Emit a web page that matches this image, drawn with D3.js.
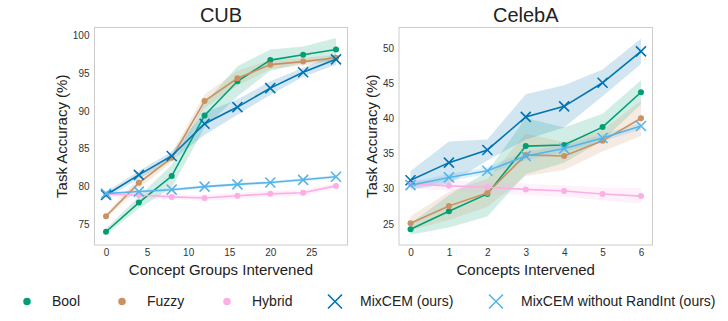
<!DOCTYPE html>
<html>
<head>
<meta charset="utf-8">
<script src="https://cdn.jsdelivr.net/npm/d3@7"></script>
<style>
body { margin: 0; background: #fff; }
text { font-family: "Liberation Sans", Arial, sans-serif; }
.tick text { fill: #333; font-size: 10px; }
</style>
</head>
<body>
<svg width="728" height="321"></svg>
<script>

// series names and colours
var names = ["Bool", "Fuzzy", "Hybrid", "MixCEM (ours)", "MixCEM without RandInt (ours)"];
var colors = ["#029e73", "#ca9161", "#fbafe4", "#0173b2", "#56b4e9"];
var markers = ["dot", "dot", "dot", "x", "x"];

// CUB
var cubX = [0, 4, 8, 12, 16, 20, 24, 28];
var cubBool   = [74.05, 77.9, 81.4, 89.4, 93.9, 96.7, 97.4, 98.1];
var cubFuzzy  = [76.1, 80.5, 83.8, 91.3, 94.3, 96.1, 96.5, 97.0];
var cubHybrid = [79.0, 78.9, 78.65, 78.5, 78.8, 79.05, 79.2, 80.1];
var cubMix    = [78.9, 81.55, 84.05, 88.3, 90.5, 93.0, 95.1, 96.8];
var cubMixNR  = [79.1, 79.35, 79.6, 80.0, 80.3, 80.55, 80.9, 81.3];
var cubBoolSd   = [0.4, 0.8, 1.5, 1.6, 2.0, 1.4, 1.1, 1.5];
var cubFuzzySd  = [0.3, 0.7, 0.6, 0.9, 1.0, 0.6, 0.5, 0.4];
var cubHybridSd = [0.3, 0.4, 0.3, 0.4, 0.4, 0.4, 0.4, 0.3];
var cubMixSd    = [0.4, 0.5, 0.6, 1.5, 1.0, 0.9, 0.6, 0.7];
var cubMixNRSd  = [0.2, 0.2, 0.2, 0.2, 0.2, 0.2, 0.2, 0.2];

// CelebA
var celX = [0, 1, 2, 3, 4, 5, 6];
var celBool   = [24.24, 26.8, 29.25, 36.05, 36.2, 38.75, 43.7];
var celFuzzy  = [25.1, 27.55, 29.4, 34.8, 34.65, 36.8, 40.0];
var celHybrid = [30.67, 30.4, 30.2, 29.9, 29.67, 29.25, 28.95];
var celMix    = [31.2, 33.7, 35.5, 40.2, 41.7, 45.05, 49.5];
var celMixNR  = [30.5, 31.6, 32.55, 34.65, 35.7, 37.2, 38.9];
var celBoolSd   = [0.8, 2.3, 3.2, 4.0, 2.5, 1.9, 1.7];
var celFuzzySd  = [1.0, 2.0, 2.0, 3.0, 2.0, 1.5, 2.5];
var celHybridSd = [0.6, 0.7, 0.8, 0.8, 0.8, 0.9, 1.1];
var celMixSd    = [1.3, 3.0, 1.5, 3.2, 3.0, 1.9, 1.8];
var celMixNRSd  = [0.4, 0.5, 0.5, 0.6, 0.5, 0.5, 0.5];

var cubXTicks = [0, 5, 10, 15, 20, 25];
var cubYTicks = [75, 80, 85, 90, 95, 100];
var celXTicks = [0, 1, 2, 3, 4, 5, 6];
var celYTicks = [25, 30, 35, 40, 45, 50];

var svg = d3.select("svg");

function panel(opt) {
  var x = d3.scaleLinear().domain(opt.xdom).range([opt.left, opt.right]);
  var y = d3.scaleLinear().domain(opt.ydom).range([opt.bottom, opt.top]);
  var g = svg.append("g");

  g.append("rect")
    .attr("x", opt.left).attr("y", opt.top)
    .attr("width", opt.right - opt.left).attr("height", opt.bottom - opt.top)
    .attr("fill", "#fff").attr("stroke", "#cccccc").attr("stroke-width", 1);

  var plot = g.append("g");

  // bands first
  opt.series.forEach(function(s, i) {
    var area = d3.area()
      .x(function(d, j) { return x(opt.xs[j]); })
      .y0(function(d, j) { return y(d - opt.sds[i][j]); })
      .y1(function(d, j) { return y(d + opt.sds[i][j]); });
    plot.append("path").datum(s)
      .attr("d", area)
      .attr("fill", colors[i]).attr("fill-opacity", 0.18);
  });

  opt.series.forEach(function(s, i) {
    var line = d3.line()
      .x(function(d, j) { return x(opt.xs[j]); })
      .y(function(d) { return y(d); });
    plot.append("path").datum(s)
      .attr("d", line)
      .attr("fill", "none").attr("stroke", colors[i]).attr("stroke-width", 1.6);
    s.forEach(function(v, j) {
      drawMarker(plot, markers[i], x(opt.xs[j]), y(v), colors[i], 1);
    });
  });

  g.append("g")
    .attr("transform", "translate(0," + opt.bottom + ")")
    .call(d3.axisBottom(x).tickValues(opt.xticks).tickSize(0).tickPadding(4).tickFormat(d3.format("d")))
    .call(function(a) { a.select(".domain").remove(); });

  g.append("g")
    .attr("transform", "translate(" + opt.left + ",0)")
    .call(d3.axisLeft(y).tickValues(opt.yticks).tickSize(0).tickPadding(5).tickFormat(d3.format("d")))
    .call(function(a) { a.select(".domain").remove(); });

  var cx = (opt.left + opt.right) / 2;
  g.append("text").attr("x", cx).attr("y", 22)
    .attr("text-anchor", "middle").attr("font-size", 20).attr("fill", "#222")
    .text(opt.title);
  g.append("text").attr("x", cx).attr("y", 275)
    .attr("text-anchor", "middle").attr("font-size", 15).attr("fill", "#222")
    .text(opt.xlabel);
  g.append("text")
    .attr("transform", "translate(" + opt.ylabx + "," + ((opt.top + opt.bottom) / 2) + ") rotate(-90)")
    .attr("text-anchor", "middle").attr("font-size", 15).attr("fill", "#222")
    .text("Task Accuracy (%)");
}

function drawMarker(sel, type, cx, cy, color, scale) {
  if (type == "dot") {
    sel.append("circle").attr("cx", cx).attr("cy", cy).attr("r", 3 * scale)
      .attr("fill", color);
  } else {
    var r = 5 * scale;
    sel.append("path")
      .attr("d", "M" + (cx - r) + "," + (cy - r) + "L" + (cx + r) + "," + (cy + r) +
                 "M" + (cx - r) + "," + (cy + r) + "L" + (cx + r) + "," + (cy - r))
      .attr("stroke", color).attr("stroke-width", 1.6).attr("fill", "none");
  }
}

panel({
  title: "CUB", xlabel: "Concept Groups Intervened",
  left: 94.5, right: 347.5, top: 27.5, bottom: 245, ylabx: 67,
  xdom: [-1.4, 29.4], ydom: [72.3, 101.0],
  xticks: cubXTicks, yticks: cubYTicks, xs: cubX,
  series: [cubBool, cubFuzzy, cubHybrid, cubMix, cubMixNR],
  sds: [cubBoolSd, cubFuzzySd, cubHybridSd, cubMixSd, cubMixNRSd]
});

panel({
  title: "CelebA", xlabel: "Concepts Intervened",
  left: 399, right: 652.5, top: 27.5, bottom: 245, ylabx: 377,
  xdom: [-0.3, 6.3], ydom: [22.0, 52.9],
  xticks: celXTicks, yticks: celYTicks, xs: celX,
  series: [celBool, celFuzzy, celHybrid, celMix, celMixNR],
  sds: [celBoolSd, celFuzzySd, celHybridSd, celMixSd, celMixNRSd]
});

// legend
var legX = [27, 122, 227, 335, 496];
var lg = svg.append("g");
names.forEach(function(n, i) {
  drawMarker(lg, markers[i], legX[i], 301.5, colors[i], markers[i] == "dot" ? 1.25 : 1.4);
  lg.append("text").attr("x", legX[i] + 25).attr("y", 301.5).attr("dy", "0.35em")
    .attr("font-size", 14).attr("fill", "#222").text(n);
});

</script>
</body>
</html>
